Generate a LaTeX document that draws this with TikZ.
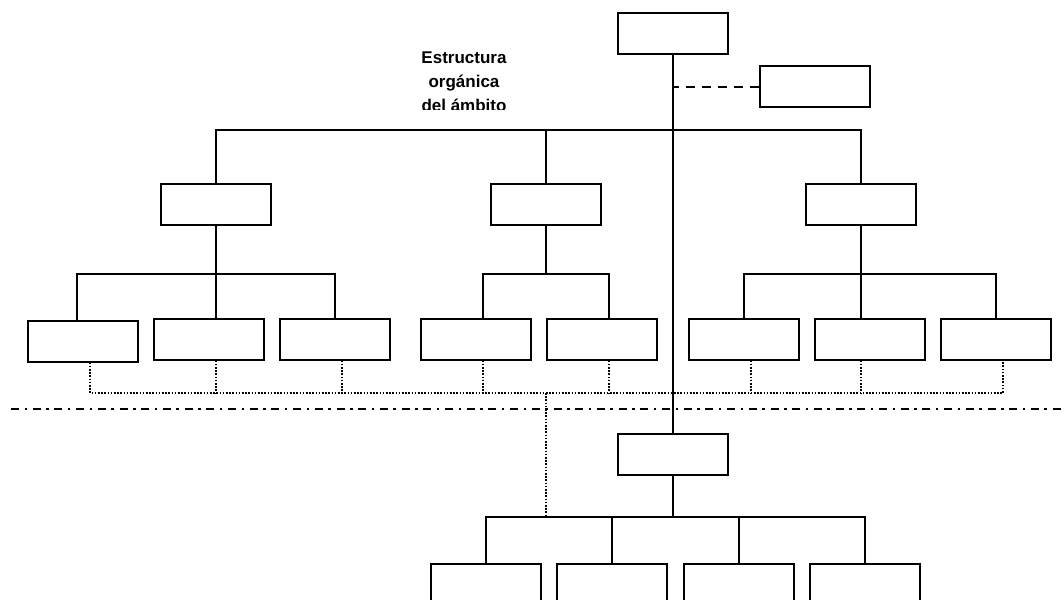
\documentclass[tikz,border=0pt]{standalone}
\usepackage{fontspec}
\setmainfont{Liberation Sans}
\usepackage{tikz}
\usetikzlibrary{positioning}
\tikzstyle{unit} = [rectangle, draw=black, line width=2pt, minimum width=110pt, minimum height=41pt, inner sep=0pt]
\tikzstyle{link} = [line width=1.6pt]
\tikzstyle{staffline} = [line width=1.6pt, dash pattern=on 9pt off 7pt]
\tikzstyle{coordline} = [line width=1.6pt, dash pattern=on 1.6pt off 1.6pt]
\tikzstyle{limit} = [line width=2pt, dash pattern=on 8pt off 5.5pt on 2.5pt off 5.7pt]

\begin{document}
\begin{tikzpicture}[x=1pt, y=-1pt]
        \clip (0,0) rectangle (1064,599);
        % heading, cut at the bottom as in the original
        \begin{scope}
        \clip (380,40) rectangle (560,110);
        \node (title) [anchor=base, align=center, font=\bfseries\fontsize{17}{24}\selectfont, inner sep=0pt] at (464,111.5) {Estructura\\orgánica\\del ámbito};
        \end{scope}

        \node (top) [unit] at (673,34) {};
        \node (staff) [unit] at (815,87) {};
        \node (dir1) [unit] at (216,204) {};
        \node (dir2) [unit] at (546,204) {};
        \node (dir3) [unit] at (861,204) {};
        \node (unit1) [unit] at (83,341) {};
        \node (unit2) [unit] at (209,339) {};
        \node (unit3) [unit] at (335,339) {};
        \node (unit4) [unit] at (476,339) {};
        \node (unit5) [unit] at (602,339) {};
        \node (unit6) [unit] at (744,339) {};
        \node (unit7) [unit] at (870,339) {};
        \node (unit8) [unit] at (996,339) {};
        \node (sub) [unit] at (673,454) {};
        \node (sub1) [unit] at (486,584) {};
        \node (sub2) [unit] at (612,584) {};
        \node (sub3) [unit] at (739,584) {};
        \node (sub4) [unit] at (865,584) {};

        \coordinate (bus0) at (0,130);
        \coordinate (bus1) at (0,274);
        \coordinate (busD) at (0,393);
        \coordinate (busB) at (0,517);
        \coordinate (limL) at (11,409);
        \coordinate (limR) at (1064,409);
        \coordinate (d1) at ([xshift=7pt]unit1.south);
        \coordinate (d2) at ([xshift=7pt]unit2.south);
        \coordinate (d3) at ([xshift=7pt]unit3.south);
        \coordinate (d4) at ([xshift=7pt]unit4.south);
        \coordinate (d5) at ([xshift=7pt]unit5.south);
        \coordinate (d6) at ([xshift=7pt]unit6.south);
        \coordinate (d7) at ([xshift=-9pt]unit7.south);
        \coordinate (d8) at ([xshift=7pt]unit8.south);

        % line of separation
        \draw [limit] (limL) -- (limR);

        % coordination (dotted)
        \draw [coordline] (d1) |- (busD -| d8) -- (d8);
        \draw [coordline] (d2) -- (d2 |- busD);
        \draw [coordline] (d3) -- (d3 |- busD);
        \draw [coordline] (d4) -- (d4 |- busD);
        \draw [coordline] (d5) -- (d5 |- busD);
        \draw [coordline] (d6) -- (d6 |- busD);
        \draw [coordline] (d7) -- (d7 |- busD);
        \draw [coordline] (busD -| dir2) -- (busB -| dir2);

        % hierarchy
        \draw [link] (top) -- (sub);
        \draw [staffline] (staff.west) -- (staff.west -| top.south);
        \draw [link] (dir1.north) |- (bus0 -| dir3.north) -- (dir3.north);
        \draw [link] (dir2.north) -- (dir2.north |- bus0);

        \draw [link] (dir1) -- (dir1 |- unit2.north);
        \draw [link] ([xshift=-6pt]unit1.north) |- (bus1 -| unit3.north) -- (unit3.north);
        \draw [link] (dir2) -- (dir2 |- bus1);
        \draw [link] ([xshift=7pt]unit4.north) |- (bus1 -| dir2) -| ([xshift=7pt]unit5.north);
        \draw [link] (dir3) -- (dir3 |- unit7.north);
        \draw [link] (unit6.north) |- (bus1 -| unit8.north) -- (unit8.north);

        \draw [link] (sub) -- (sub |- busB);
        \draw [link] (sub1.north) |- (busB -| sub4.north) -- (sub4.north);
        \draw [link] (sub2.north) -- (sub2.north |- busB);
        \draw [link] (sub3.north) -- (sub3.north |- busB);
\end{tikzpicture}
\end{document}
